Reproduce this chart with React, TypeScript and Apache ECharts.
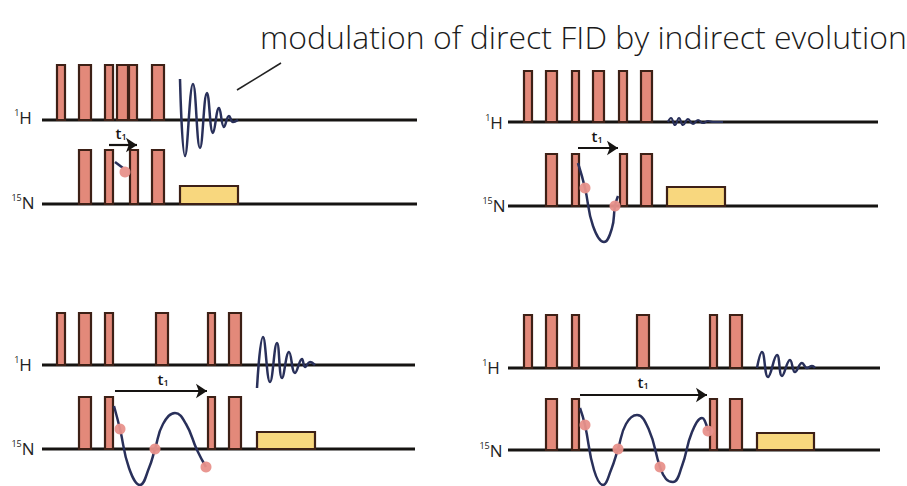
import React, { useEffect, useRef } from "react";
import * as echarts from "echarts";

const W = 907;
const H = 486;

const titleText = "modulation of direct FID by indirect evolution";

// baselines: [xStart, xEnd, y]
const baselines = [
  [42, 417, 120], [42, 417, 204],
  [508, 878, 122], [508, 878, 206],
  [42, 415, 365], [42, 415, 449],
  [508, 880, 368], [508, 880, 450],
];

// pulses per row: [x0, x1]
const p1H = [[57, 65], [79, 91], [105, 113], [117, 128], [129, 137], [152, 164]];
const p1N = [[79, 91], [105, 113], [130, 138], [152, 164]];
const p2H = [[524, 532], [546, 557], [572, 579], [593, 604], [619, 627], [641, 652]];
const p2N = [[546, 557], [572, 579], [620, 627], [641, 652]];
const p3H = [[57, 65], [79, 91], [105, 113], [156, 168], [208, 215], [229, 241]];
const p3N = [[79, 91], [105, 113], [208, 215], [229, 241]];
const p4H = [[524, 532], [546, 557], [572, 579], [637, 649], [710, 717], [730, 742]];
const p4N = [[546, 557], [572, 579], [710, 717], [730, 742]];

// rows: [pulses, top, base]
const pulseRows: [number[][], number, number][] = [
  [p1H, 65, 120], [p1N, 150, 204],
  [p2H, 71, 122], [p2N, 154, 206],
  [p3H, 313, 365], [p3N, 397, 449],
  [p4H, 315, 368], [p4N, 399, 450],
];

// decoupling boxes: [x0, x1, top, base]
const boxes = [
  [180, 238, 186, 204],
  [667, 725, 187, 206],
  [257, 315, 432, 449],
  [757, 814, 433, 450],
];

// FIDs
const fid1 = [[180, 79], [185, 156], [193, 84], [200, 148], [207, 93], [213, 133], [219, 108], [224, 127], [229, 116], [233, 122], [238, 120]];
const fid2 = [[668, 122], [671, 118], [675, 125], [679, 118], [683, 125], [688, 119], [693, 124], [698, 120], [703, 123], [708, 121], [713, 122], [723, 122]];
const fid3 = [[257, 388], [263, 337], [270, 382], [277, 343], [282, 378], [289, 352], [295, 373], [302, 359], [305, 367], [310, 362], [315, 365]];
const fid4 = [[757, 368], [762, 352], [768, 377], [777, 355], [782, 376], [790, 360], [795, 372], [802, 363], [807, 368], [812, 366], [815, 368]];

// indirect evolution curves
const evo1 = [[115, 162], [123, 168]];
const evo2 = [[578, 163], [585, 188], [593, 226], [604, 242], [612, 228], [615, 206], [618, 196]];
const evo3 = [[114, 406], [120, 429], [129, 468], [140, 485], [149, 468], [155, 449], [163, 424], [175, 413], [186, 424], [197, 450], [206, 467]];
const evo4 = [[580, 408], [585, 425], [594, 470], [603, 485], [611, 470], [618, 449], [626, 424], [637, 415], [649, 430], [660, 467], [666, 479], [673, 482], [682, 466], [692, 432], [702, 418], [708, 431]];

// dots
const dots = [
  [125, 172],
  [585, 188], [615, 206],
  [120, 429], [155, 449], [206, 467],
  [585, 425], [618, 449], [660, 467], [708, 431],
];

// t1 arrows: [x0, x1, y]
const arrows = [
  [109, 137, 145],
  [578, 618, 148],
  [115, 207, 391],
  [580, 707, 395],
];
const t1Labels = [[121, 133], [597, 136], [163, 379], [643, 382]];

// nucleus labels: [x, y, kind]
const nucLabels: [number, number, string][] = [
  [23, 117, "H"], [23, 202, "N"],
  [494, 122, "H"], [494, 205, "N"],
  [23, 364, "H"], [23, 448, "N"],
  [491, 367, "H"], [491, 450, "N"],
];

// pointer line
const pointer = [[237, 90], [281, 63]];

const PULSE_FILL = "#e3897a";
const PULSE_STROKE = "#3d2016";
const BOX_FILL = "#f8d77e";
const WAVE = "#29305a";
const DOT = "#e8918b";
const INK = "#161412";

export default function App() {
  const ref = useRef<HTMLDivElement>(null);
  useEffect(() => {
    document.body.style.margin = "0";
    const chart = echarts.init(ref.current!, null, { renderer: "svg" });

    const pulseData: number[][] = [];
    pulseRows.forEach(([ps, top, base]) => {
      ps.forEach((p) => pulseData.push([p[0], p[1], top, base]));
    });

    const rectRender = (fill: string) => (params: any, api: any) => {
      const a = api.coord([api.value(0), api.value(2)]);
      const b = api.coord([api.value(1), api.value(3)]);
      return {
        type: "rect",
        shape: { x: a[0], y: a[1], width: b[0] - a[0], height: b[1] - a[1] },
        style: { fill, stroke: PULSE_STROKE, lineWidth: 2.2 },
      };
    };

    const waveSeries = (d: number[][], w = 2.5) => ({
      type: "line",
      data: d,
      smooth: 0.45,
      showSymbol: false,
      symbol: "none",
      lineStyle: { color: WAVE, width: w },
      z: 5,
      silent: true,
    });

    const option: any = {
      animation: false,
      title: {
        text: titleText,
        left: 255,
        top: 15,
        textStyle: {
          fontFamily: "Open Sans",
          fontWeight: 300,
          fontSize: 32,
          color: "#1b1b1b",
        },
      },
      grid: { left: 0, right: 0, top: 0, bottom: 0 },
      xAxis: { type: "value", min: 0, max: W, show: false },
      yAxis: { type: "value", min: 0, max: H, inverse: true, show: false },
      series: [
        {
          type: "custom",
          data: baselines,
          z: 1,
          renderItem: (params: any, api: any) => {
            const a = api.coord([api.value(0), api.value(2)]);
            const b = api.coord([api.value(1), api.value(2)]);
            return {
              type: "line",
              shape: { x1: a[0], y1: a[1], x2: b[0], y2: b[1] },
              style: { stroke: INK, lineWidth: 2.8 },
            };
          },
        },
        { type: "custom", data: pulseData, z: 2, renderItem: rectRender(PULSE_FILL) },
        { type: "custom", data: boxes, z: 2, renderItem: rectRender(BOX_FILL) },
        waveSeries(fid1),
        waveSeries(fid2, 2.2),
        waveSeries(fid3),
        waveSeries(fid4),
        waveSeries(evo1),
        waveSeries(evo2),
        waveSeries(evo3),
        waveSeries(evo4),
        {
          type: "scatter",
          data: dots,
          symbolSize: 11,
          itemStyle: { color: DOT, opacity: 0.95 },
          z: 6,
        },
        {
          type: "lines",
          coordinateSystem: "cartesian2d",
          data: arrows.map((a) => ({ coords: [[a[0], a[2]], [a[1], a[2]]] })),
          symbol: ["none", "arrow"],
          symbolSize: 11,
          lineStyle: { color: INK, width: 2.2, opacity: 1 },
          z: 4,
        },
        {
          type: "lines",
          coordinateSystem: "cartesian2d",
          data: [{ coords: pointer }],
          symbol: "none",
          lineStyle: { color: "#222", width: 1.6, opacity: 1 },
          z: 4,
        },
        {
          type: "custom",
          data: t1Labels,
          z: 7,
          renderItem: (params: any, api: any) => {
            const p = api.coord([api.value(0), api.value(1)]);
            return {
              type: "text",
              x: p[0],
              y: p[1],
              style: {
                text: "{t|t}{s|1}",
                align: "center",
                verticalAlign: "middle",
                rich: {
                  t: { fontFamily: "Open Sans", fontWeight: 600, fontSize: 15, fill: INK, verticalAlign: "bottom" },
                  s: { fontFamily: "Open Sans", fontWeight: 600, fontSize: 9, fill: INK, verticalAlign: "bottom" },
                },
              },
            };
          },
        },
        {
          type: "custom",
          data: nucLabels.map((l) => [l[0], l[1]]),
          z: 7,
          renderItem: (params: any, api: any) => {
            const p = api.coord([api.value(0), api.value(1)]);
            const kind = nucLabels[params.dataIndex][2];
            const sup = kind === "H" ? "1" : "15";
            return {
              type: "text",
              x: p[0],
              y: p[1],
              style: {
                text: `{s|${sup}}{b|${kind}}`,
                align: "center",
                verticalAlign: "middle",
                rich: {
                  s: { fontFamily: "Open Sans", fontSize: 9, fill: "#222", verticalAlign: "top", lineHeight: 18 },
                  b: { fontFamily: "Open Sans", fontSize: 17, fill: "#222", verticalAlign: "bottom", lineHeight: 18 },
                },
              },
            };
          },
        },
      ],
    };
    chart.setOption(option);
    return () => chart.dispose();
  }, []);
  return <div ref={ref} style={{ width: W, height: H, background: "#fff" }} />;
}
